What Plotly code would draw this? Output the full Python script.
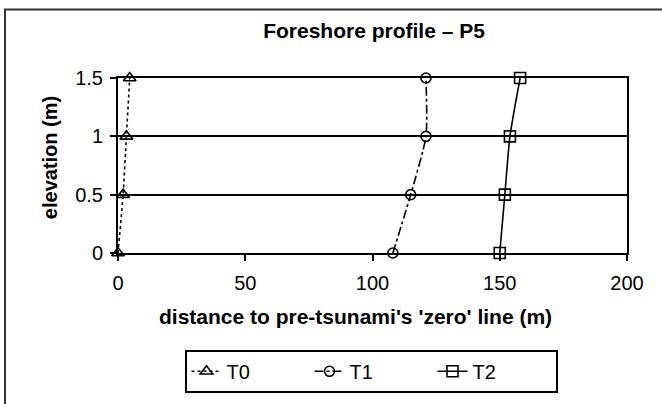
import plotly.graph_objects as go

elevation = [0, 0.5, 1.0, 1.5]
t0 = [0, 2, 3.3, 4.6]
t1 = [108, 115, 121, 121]
t2 = [150, 152, 154, 158]
series_names = ["T0", "T1", "T2"]
x_ticks = [0, 50, 100, 150, 200]
y_ticks = [0, 0.5, 1, 1.5]
y_tick_labels = ["0", "0.5", "1", "1.5"]

W, H = 662, 404
L, R, T, B = 118, 35, 78, 147
pw, ph = W - L - R, H - T - B

def px_x(p):
    return (p - L) / pw

def px_y(p):
    return (H - B - p) / ph

FONT = "Liberation Sans, Arial, sans-serif"

fig = go.Figure()
styles = [
    (t0, "dot", "triangle-up-open", 11),
    (t1, "dashdot", "circle-open", 10),
    (t2, "solid", "square-open", 11),
]
for name, (xs, dash, sym, ms) in zip(series_names, styles):
    fig.add_trace(go.Scatter(
        x=xs, y=elevation, name=name, mode="lines+markers",
        line=dict(color="black", width=1.6, dash=dash, shape="spline", smoothing=0.6),
        marker=dict(symbol=sym, size=ms, color="black", line=dict(width=1.6, color="black")),
        cliponaxis=False,
    ))

fig.update_layout(
    width=W, height=H,
    margin=dict(l=L, r=R, t=T, b=B, pad=0),
    paper_bgcolor="white", plot_bgcolor="white",
    font=dict(family=FONT, color="black", size=18),
    title=dict(text="Foreshore profile – P5", x=374 / W, xref="container",
               xanchor="center", y=1 - 31 / H, yref="container", yanchor="middle",
               font=dict(size=21, weight="bold", family=FONT, color="black")),
    xaxis=dict(range=[0, 200], tickvals=x_ticks, ticks="outside", ticklen=6, tickwidth=1.5,
               tickcolor="black", showline=True, linecolor="black", linewidth=2, mirror=True,
               showgrid=False, zeroline=False, tickfont=dict(size=20), ticklabelstandoff=5),
    yaxis=dict(range=[0, 1.5], tickvals=y_ticks, ticktext=y_tick_labels, ticks="outside",
               ticklen=6, tickwidth=1.5, tickcolor="black", showline=True, linecolor="black",
               linewidth=2, mirror=True, showgrid=True, gridcolor="black", gridwidth=2,
               zeroline=False, tickfont=dict(size=20), ticklabelstandoff=3),
    legend=dict(orientation="h", x=px_x(371), y=px_y(378), xanchor="center", yanchor="middle",
                bordercolor="black", borderwidth=2, bgcolor="white", font=dict(size=20),
                entrywidth=78, itemwidth=30),
    showlegend=True,
)

fig.add_annotation(text="distance to pre-tsunami's 'zero' line (m)", xref="paper", yref="paper",
                   x=px_x(355), y=px_y(322), xanchor="center", yanchor="middle", showarrow=False,
                   font=dict(size=21, weight="bold", family=FONT, color="black"))
fig.add_annotation(text="elevation (m)", xref="paper", yref="paper", textangle=-90,
                   x=px_x(50), y=px_y(160), xanchor="center", yanchor="middle", showarrow=False,
                   font=dict(size=20, weight="bold", family=FONT, color="black"))

fig.add_shape(type="rect", xref="paper", yref="paper",
              x0=px_x(5), x1=px_x(690), y0=px_y(430), y1=px_y(8),
              line=dict(color="#333333", width=2), fillcolor="rgba(0,0,0,0)", layer="below")

fig.write_html("out.html")
